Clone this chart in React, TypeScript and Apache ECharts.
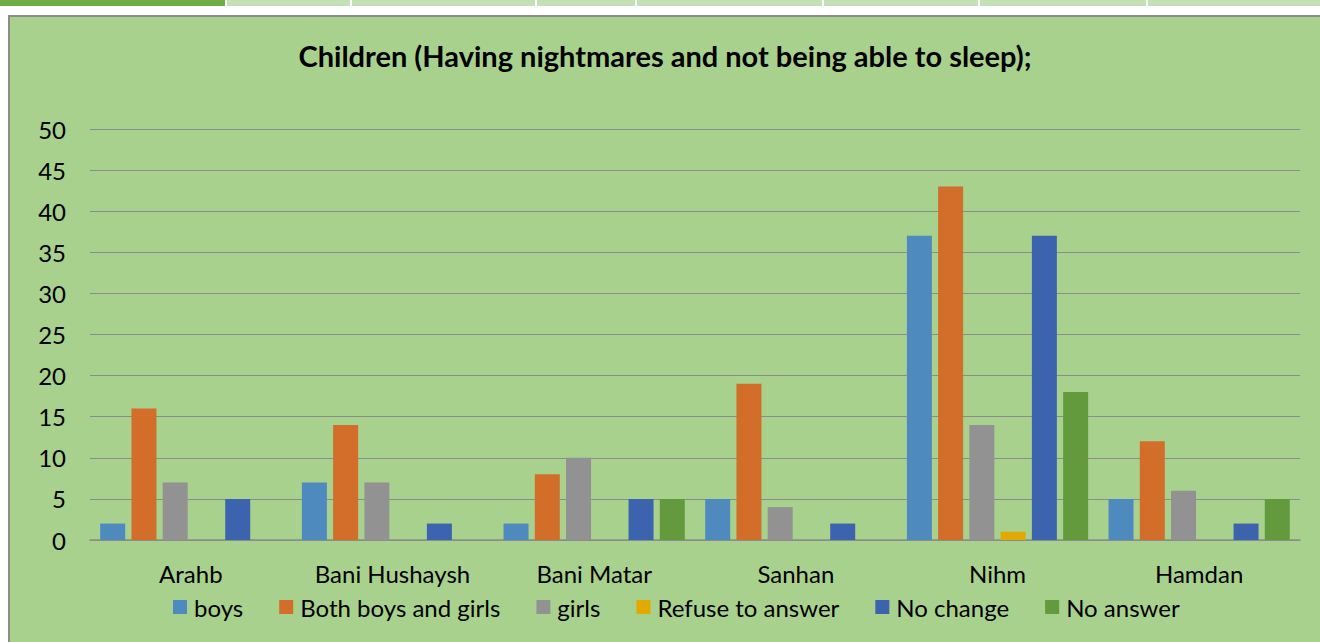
import React, { useEffect, useRef } from "react";
import * as echarts from "echarts";

const categories = ["Arahb", "Bani Hushaysh", "Bani Matar", "Sanhan", "Nihm", "Hamdan"];
const seriesNames = ["boys", "Both boys and girls", "girls", "Refuse to answer", "No change", "No answer"];
const boys = [2, 7, 2, 5, 37, 5];
const bothBoysAndGirls = [16, 14, 8, 19, 43, 12];
const girls = [7, 7, 10, 4, 14, 6];
const refuseToAnswer = [0, 0, 0, 0, 1, 0];
const noChange = [5, 2, 5, 2, 37, 2];
const noAnswer = [0, 0, 5, 0, 18, 5];
const seriesValues = [boys, bothBoysAndGirls, girls, refuseToAnswer, noChange, noAnswer];
const seriesColors = ["#4E8ABE", "#D26D2A", "#929292", "#E2AA00", "#3C64AE", "#629A3D"];
const yTicks = { min: 0, max: 50, interval: 5 };
const titleText = "Children (Having nightmares and not being able to sleep);";

const FONT = "Lato, 'Noto Sans', sans-serif";

export default function App() {
  const ref = useRef<HTMLDivElement>(null);
  useEffect(() => {
    document.body.style.margin = "0";
    const chart = echarts.init(ref.current!, null, { renderer: "svg" });
    const stripCells = [
      [0, 225, "#70AD47"],
      [227, 123, "#C5E0B4"],
      [352, 183, "#C5E0B4"],
      [537, 98, "#C5E0B4"],
      [637, 185, "#C5E0B4"],
      [824, 154, "#C5E0B4"],
      [980, 166, "#C5E0B4"],
      [1148, 172, "#C5E0B4"],
    ];
    const option: any = {
      animation: false,
      backgroundColor: "#FFFFFF",
      textStyle: { fontFamily: FONT },
      title: {
        text: titleText,
        left: 660,
        textAlign: "center",
        top: 36,
        textStyle: { fontFamily: FONT, fontSize: 29, fontWeight: "bold", color: "#000" },
      },
      graphic: [
        ...stripCells.map((c) => ({
          type: "rect",
          z: -10,
          shape: { x: c[0] as number, y: 0, width: c[1] as number, height: 6 },
          style: { fill: c[2] as string },
        })),
        {
          type: "rect",
          z: -10,
          shape: { x: 9, y: 16, width: 1330, height: 640 },
          style: { fill: "#A9D18E", stroke: "#8C8C8C", lineWidth: 2 },
        },
      ],
      legend: {
        data: seriesNames,
        left: 168,
        top: 590,
        itemWidth: 14,
        itemHeight: 14,
        itemGap: 36,
        icon: "rect",
        textStyle: { fontFamily: FONT, fontSize: 24, color: "#000", padding: [0, 0, 0, 2] },
      },
      grid: { left: 90, right: 20, top: 129, bottom: 102, containLabel: false },
      xAxis: {
        type: "category",
        data: categories,
        axisLine: { lineStyle: { color: "#8C8C8C", width: 1.5 } },
        axisTick: { show: false },
        axisLabel: { fontFamily: FONT, fontSize: 24, color: "#000", margin: 21, interval: 0 },
      },
      yAxis: {
        type: "value",
        min: yTicks.min,
        max: yTicks.max,
        interval: yTicks.interval,
        axisLine: { show: false },
        axisTick: { show: false },
        axisLabel: { fontFamily: FONT, fontSize: 24, color: "#000", margin: 24 },
        splitLine: { lineStyle: { color: "#8C8C8C", width: 1.2 } },
      },
      series: seriesNames.map((name, i) => ({
        name,
        type: "bar",
        data: seriesValues[i],
        barWidth: 25,
        barGap: "25%",
        itemStyle: { color: seriesColors[i] },
      })),
    };
    chart.setOption(option);
    return () => chart.dispose();
  }, []);
  return <div ref={ref} style={{ position: "absolute", left: 0, top: 0, width: 1320, height: 642 }} />;
}
